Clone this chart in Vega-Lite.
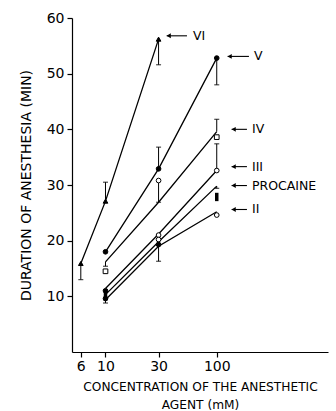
{
  "$schema": "https://vega.github.io/schema/vega-lite/v6.json",
  "width": 256,
  "height": 334,
  "autosize": {"type": "none"},
  "padding": {"left": 72, "top": 18, "right": 8, "bottom": 59},
  "background": "white",
  "config": {
    "view": {"stroke": null},
    "font": "DejaVu Sans",
    "axis": {"grid": false, "domainColor": "black", "tickColor": "black", "labelColor": "black", "titleColor": "black", "domainWidth": 1.2, "tickWidth": 1.2, "labelFont": "DejaVu Sans", "titleFont": "DejaVu Sans", "titleFontWeight": "normal"}
  },
  "datasets": {
    "lines": [
      {"series": "VI", "conc": 6, "dur": 15.9},
      {"series": "VI", "conc": 10, "dur": 27.1},
      {"series": "VI", "conc": 30, "dur": 56.2},
      {"series": "V", "conc": 10, "dur": 18.0},
      {"series": "V", "conc": 30, "dur": 32.9},
      {"series": "V", "conc": 100, "dur": 52.8},
      {"series": "IV", "conc": 10, "dur": 16.2},
      {"series": "IV", "conc": 30, "dur": 26.9},
      {"series": "IV", "conc": 100, "dur": 39.6},
      {"series": "III", "conc": 10, "dur": 11.4},
      {"series": "III", "conc": 30, "dur": 21.2},
      {"series": "III", "conc": 100, "dur": 32.6},
      {"series": "PROCAINE", "conc": 10, "dur": 10.3},
      {"series": "PROCAINE", "conc": 30, "dur": 19.8},
      {"series": "PROCAINE", "conc": 100, "dur": 29.8},
      {"series": "II", "conc": 10, "dur": 9.4},
      {"series": "II", "conc": 30, "dur": 19.0},
      {"series": "II", "conc": 100, "dur": 25.2}
    ],
    "markers": [
      {"series": "VI", "conc": 6, "dur": 15.9},
      {"series": "VI", "conc": 10, "dur": 27.1},
      {"series": "VI", "conc": 30, "dur": 56.2},
      {"series": "V", "conc": 10, "dur": 18.0},
      {"series": "V", "conc": 30, "dur": 32.9},
      {"series": "V", "conc": 100, "dur": 52.8},
      {"series": "IV", "conc": 10, "dur": 14.5},
      {"series": "IV", "conc": 100, "dur": 38.6},
      {"series": "III", "conc": 30, "dur": 30.8},
      {"series": "III", "conc": 100, "dur": 32.6},
      {"series": "III", "conc": 30, "dur": 21.0},
      {"series": "II", "conc": 30, "dur": 20.2},
      {"series": "II", "conc": 100, "dur": 24.6},
      {"series": "V", "conc": 10, "dur": 11.0},
      {"series": "V", "conc": 10, "dur": 9.6},
      {"series": "V", "conc": 30, "dur": 19.3}
    ],
    "errs": [
      {"conc": 6, "mean": 15.9, "end": 13.0},
      {"conc": 10, "mean": 27.1, "end": 30.5},
      {"conc": 30, "mean": 56.2, "end": 51.6},
      {"conc": 30, "mean": 32.9, "end": 36.8},
      {"conc": 100, "mean": 52.8, "end": 48.0},
      {"conc": 30, "mean": 30.8, "end": 26.9},
      {"conc": 100, "mean": 39.6, "end": 41.8},
      {"conc": 100, "mean": 32.6, "end": 37.4},
      {"conc": 100, "mean": 29.8, "end": 29.4},
      {"conc": 30, "mean": 19.5, "end": 16.3},
      {"conc": 10, "mean": 16.2, "end": 15.4},
      {"conc": 10, "mean": 9.4, "end": 8.8}
    ],
    "blocks": [
      {"conc": 100, "low": 27.1, "high": 28.6},
      {"conc": 10, "low": 9.2, "high": 11.2}
    ],
    "labels": [
      {"label": "VI", "dur": 56.8, "head": 35.5, "tail": 54.0, "pos": 61.1},
      {"label": "V", "dur": 53.1, "head": 125.3, "tail": 194.7, "pos": 215.9},
      {"label": "IV", "dur": 40.0, "head": 136.1, "tail": 186.8, "pos": 207.2},
      {"label": "III", "dur": 33.3, "head": 136.1, "tail": 186.8, "pos": 207.2},
      {"label": "PROCAINE", "dur": 29.9, "head": 136.1, "tail": 186.8, "pos": 207.2},
      {"label": "II", "dur": 25.6, "head": 136.1, "tail": 186.8, "pos": 207.2}
    ]
  },
  "layer": [
    {
      "data": {"name": "lines"},
      "mark": {"type": "line", "color": "black", "strokeWidth": 1.3},
      "encoding": {
        "x": {
          "field": "conc", "type": "quantitative",
          "scale": {"type": "log", "domain": [5, 1000], "nice": false},
          "axis": {
            "values": [6, 10, 30, 100],
            "title": ["CONCENTRATION OF THE ANESTHETIC", "AGENT (mM)"],
            "titleFontSize": 12.2,
            "titleLineHeight": 18,
            "titlePadding": 7,
            "labelFontSize": 14,
            "labelPadding": 2,
            "tickSize": 5,
            "labelFlush": false
          }
        },
        "y": {
          "field": "dur", "type": "quantitative",
          "scale": {"domain": [0, 60], "nice": false},
          "axis": {
            "values": [10, 20, 30, 40, 50, 60],
            "title": "DURATION OF ANESTHESIA (MIN)",
            "titleFontSize": 14,
            "titlePadding": 13,
            "labelFontSize": 14,
            "labelPadding": 3,
            "tickSize": 5
          }
        },
        "detail": {"field": "series"}
      }
    },
    {
      "data": {"name": "errs"},
      "mark": {"type": "rule", "color": "black", "strokeWidth": 1},
      "encoding": {
        "x": {"field": "conc", "type": "quantitative"},
        "y": {"field": "mean", "type": "quantitative"},
        "y2": {"field": "end"}
      }
    },
    {
      "data": {"name": "errs"},
      "mark": {"type": "point", "shape": "M-1,0L1,0", "size": 25, "stroke": "black", "strokeWidth": 1.2, "filled": false},
      "encoding": {
        "x": {"field": "conc", "type": "quantitative"},
        "y": {"field": "end", "type": "quantitative"}
      }
    },
    {
      "data": {"name": "blocks"},
      "mark": {"type": "rule", "color": "black", "strokeWidth": 3.5},
      "encoding": {
        "x": {"field": "conc", "type": "quantitative"},
        "y": {"field": "low", "type": "quantitative"},
        "y2": {"field": "high"}
      }
    },
    {
      "data": {"name": "markers"},
      "mark": {"type": "point", "size": 22, "stroke": "black", "strokeWidth": 1, "opacity": 1},
      "encoding": {
        "x": {"field": "conc", "type": "quantitative"},
        "y": {"field": "dur", "type": "quantitative"},
        "shape": {"field": "series", "type": "nominal", "legend": null,
          "scale": {"domain": ["VI", "V", "IV", "III", "PROCAINE", "II"], "range": ["triangle-up", "circle", "square", "circle", "circle", "circle"]}},
        "fill": {"field": "series", "type": "nominal", "legend": null,
          "scale": {"domain": ["VI", "V", "IV", "III", "PROCAINE", "II"], "range": ["black", "black", "white", "white", "black", "white"]}}
      }
    },
    {
      "data": {"name": "labels"},
      "mark": {"type": "rule", "color": "black", "strokeWidth": 1.1},
      "encoding": {
        "x": {"field": "head", "type": "quantitative"},
        "x2": {"field": "tail"},
        "y": {"field": "dur", "type": "quantitative"}
      }
    },
    {
      "data": {"name": "labels"},
      "mark": {"type": "point", "shape": "triangle-left", "size": 24, "filled": true, "color": "black", "opacity": 1, "xOffset": 2},
      "encoding": {
        "x": {"field": "head", "type": "quantitative"},
        "y": {"field": "dur", "type": "quantitative"}
      }
    },
    {
      "data": {"name": "labels"},
      "mark": {"type": "text", "align": "left", "baseline": "middle", "fontSize": 12.5, "font": "DejaVu Sans", "color": "black"},
      "encoding": {
        "x": {"field": "pos", "type": "quantitative"},
        "y": {"field": "dur", "type": "quantitative"},
        "text": {"field": "label"}
      }
    }
  ]
}
